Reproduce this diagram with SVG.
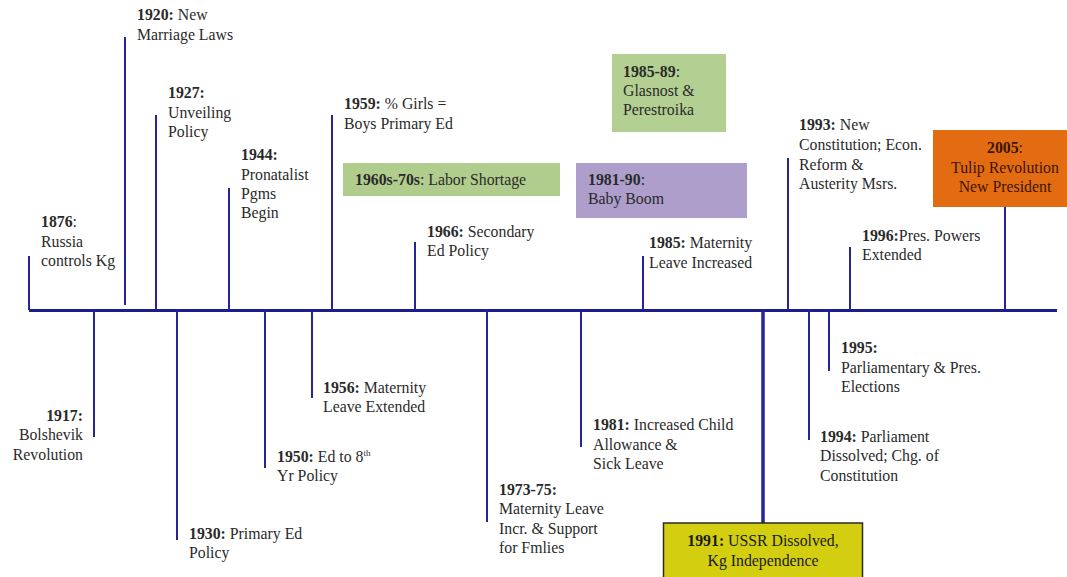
<svg xmlns="http://www.w3.org/2000/svg" width="1067" height="577" viewBox="0 0 1067 577" font-family="'Liberation Serif', serif">
<style>
text{font-family:'Liberation Serif',serif;font-size:15.8px;fill:#2a2a2a}
.b{font-weight:bold}
.tick{stroke:#25259a;stroke-width:2;fill:none}
.axis{stroke:#1d1d8a;stroke-width:3;fill:none}
.mid{text-anchor:middle}
.end{text-anchor:end}
</style>
<rect width="1067" height="577" fill="#ffffff"/>
<g id="connectors">
<line class="axis" x1="29" y1="310.5" x2="1057" y2="310.5"/>
<line class="tick" x1="29" y1="256" x2="29" y2="310"/>
<line class="tick" x1="125" y1="37" x2="125" y2="305"/>
<line class="tick" x1="156" y1="115" x2="156" y2="310"/>
<line class="tick" x1="229" y1="188" x2="229" y2="310"/>
<line class="tick" x1="332" y1="115" x2="332" y2="310"/>
<line class="tick" x1="415" y1="242" x2="415" y2="310"/>
<line class="tick" x1="643" y1="256" x2="643" y2="310"/>
<line class="tick" x1="788" y1="158" x2="788" y2="310"/>
<line class="tick" x1="850" y1="247" x2="850" y2="310"/>
<line class="tick" x1="1005" y1="207" x2="1005" y2="310"/>
<line class="tick" x1="94" y1="311" x2="94" y2="437"/>
<line class="tick" x1="177" y1="311" x2="177" y2="540"/>
<line class="tick" x1="265" y1="311" x2="265" y2="468"/>
<line class="tick" x1="312" y1="311" x2="312" y2="398"/>
<line class="tick" x1="487" y1="311" x2="487" y2="522"/>
<line class="tick" x1="581" y1="311" x2="581" y2="447"/>
<line class="tick" x1="763" y1="311" x2="763" y2="523" style="stroke-width:3.5"/>
<line class="tick" x1="809" y1="311" x2="809" y2="440"/>
<line class="tick" x1="829" y1="311" x2="829" y2="371"/>
</g>
<g id="n1876" font-family="'Liberation Serif', serif"><text x="41" y="227"><tspan class="b">1876</tspan>:</text><text x="41" y="247">Russia</text><text x="41" y="266">controls Kg</text></g>
<g id="n1920"><text x="137" y="20"><tspan class="b">1920:</tspan> New</text><text x="137" y="39.5">Marriage Laws</text></g>
<g id="n1927"><text x="168" y="98" class="b">1927:</text><text x="168" y="117.5">Unveiling</text><text x="168" y="137">Policy</text></g>
<g id="n1944"><text x="241" y="160" class="b">1944:</text><text x="241" y="179.5">Pronatalist</text><text x="241" y="199">Pgms</text><text x="241" y="218">Begin</text></g>
<g id="n1959"><text x="344" y="109"><tspan class="b">1959:</tspan> % Girls =</text><text x="344" y="129">Boys Primary Ed</text></g>
<g id="n1960s"><rect x="343" y="163" width="217" height="33" fill="#b0cd8e"/><text x="355" y="185"><tspan class="b">1960s-70s</tspan>: Labor Shortage</text></g>
<g id="n1985-89"><rect x="612" y="54" width="114" height="78" fill="#b3cf92"/><text x="623" y="77"><tspan class="b">1985-89</tspan>:</text><text x="623" y="96">Glasnost &amp;</text><text x="623" y="115">Perestroika</text></g>
<g id="n1981-90"><rect x="576" y="163" width="171" height="55" fill="#ad9ecb"/><text x="588" y="185"><tspan class="b">1981-90</tspan>:</text><text x="588" y="204">Baby Boom</text></g>
<g id="n1966"><text x="427" y="237"><tspan class="b">1966:</tspan> Secondary</text><text x="427" y="256">Ed Policy</text></g>
<g id="n1985"><text x="649" y="248"><tspan class="b">1985:</tspan> Maternity</text><text x="649" y="268">Leave Increased</text></g>
<g id="n1993"><text x="799" y="130"><tspan class="b">1993:</tspan> New</text><text x="799" y="150">Constitution; Econ.</text><text x="799" y="169.5">Reform &amp;</text><text x="799" y="189">Austerity Msrs.</text></g>
<g id="n2005"><rect x="933" y="130" width="134" height="77" fill="#e36c12"/><text x="1005" y="153" class="mid" style="fill:#3d1500"><tspan class="b">2005</tspan>:</text><text x="1005" y="173" class="mid" style="fill:#3d1500">Tulip Revolution</text><text x="1005" y="192" class="mid" style="fill:#3d1500">New President</text></g>
<g id="n1996"><text x="862" y="241"><tspan class="b">1996:</tspan>Pres. Powers</text><text x="862" y="260">Extended</text></g>
<g id="n1917"><text x="83" y="421" class="b end">1917:</text><text x="83" y="440" class="end">Bolshevik</text><text x="83" y="459.5" class="end">Revolution</text></g>
<g id="n1930"><text x="189" y="539"><tspan class="b">1930:</tspan> Primary Ed</text><text x="189" y="558">Policy</text></g>
<g id="n1950"><text x="277" y="462"><tspan class="b">1950:</tspan> Ed to 8<tspan font-size="9" dy="-6">th</tspan></text><text x="277" y="481">Yr Policy</text></g>
<g id="n1956"><text x="323" y="393"><tspan class="b">1956:</tspan> Maternity</text><text x="323" y="412">Leave Extended</text></g>
<g id="n1973"><text x="499" y="495" class="b">1973-75:</text><text x="499" y="514">Maternity Leave</text><text x="499" y="533.5">Incr. &amp; Support</text><text x="499" y="553">for Fmlies</text></g>
<g id="n1981"><text x="593" y="430"><tspan class="b">1981:</tspan> Increased Child</text><text x="593" y="450">Allowance &amp;</text><text x="593" y="469">Sick Leave</text></g>
<g id="n1991"><rect x="663.5" y="523" width="199" height="60" fill="#d3cf10" stroke="#2a2a2a" stroke-width="1.5"/><text x="763" y="546" class="mid" style="fill:#1a1a1a"><tspan class="b">1991:</tspan> USSR Dissolved,</text><text x="763" y="565.5" class="mid" style="fill:#1a1a1a">Kg Independence</text></g>
<g id="n1994"><text x="820" y="442"><tspan class="b">1994:</tspan> Parliament</text><text x="820" y="461">Dissolved; Chg. of</text><text x="820" y="480.5">Constitution</text></g>
<g id="n1995"><text x="841" y="353" class="b">1995:</text><text x="841" y="373">Parliamentary &amp; Pres.</text><text x="841" y="392">Elections</text></g>
</svg>
